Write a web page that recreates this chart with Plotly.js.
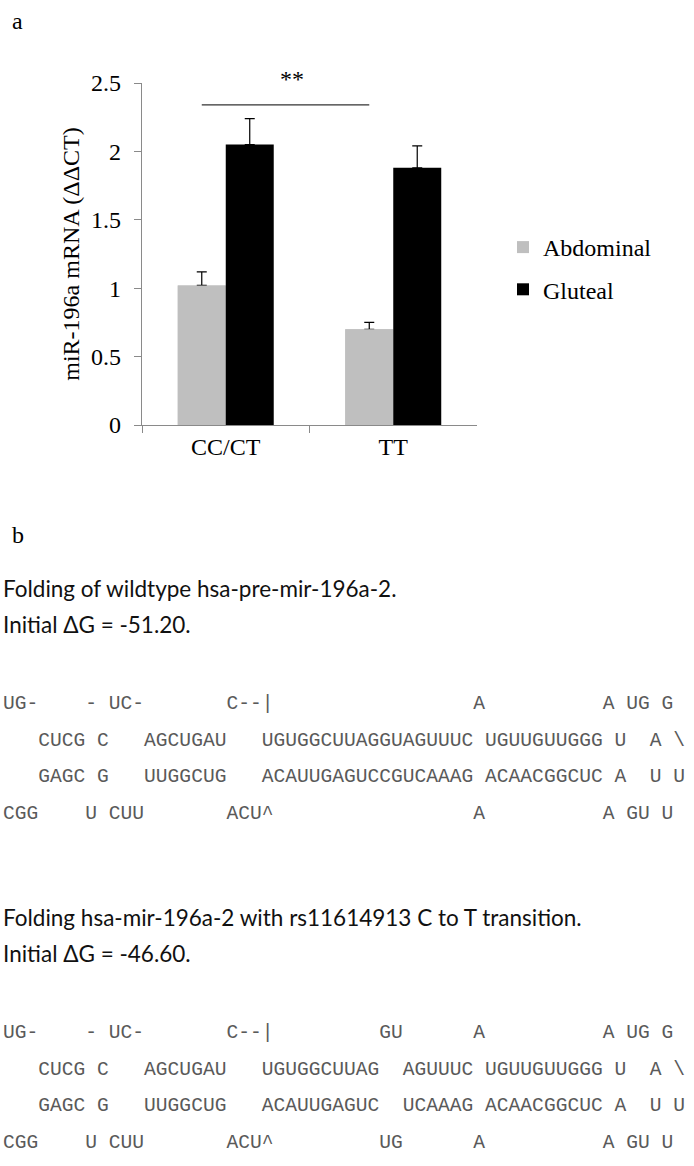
<!DOCTYPE html>
<html>
<head>
<meta charset="utf-8">
<script src="https://cdn.plot.ly/plotly-3.0.1.min.js"></script>
<style>
  html, body { margin: 0; padding: 0; background: #fff; }
  #target { width: 694px; height: 1166px; }
</style>
</head>
<body>
<div id="target"></div>
<script>
(function(global) {
  var genotypes = ['CC/CT', 'TT'];
  var abdominal = [1.02, 0.70];
  var abdominalErr = [0.10, 0.05];
  var gluteal = [2.05, 1.88];
  var glutealErr = [0.19, 0.16];
  var noErr = [0, 0];
  var sigLevel = 2.34;
  var sigLabel = '**';

  var wildtypeTitle = ['Folding of wildtype hsa-pre-mir-196a-2.', 'Initial ΔG = -51.20.'];
  var wildtypeFold = [
    'UG-    - UC-       C--|                 A          A UG G',
    '   CUCG C   AGCUGAU   UGUGGCUUAGGUAGUUUC UGUUGUUGGG U  A \\',
    '   GAGC G   UUGGCUG   ACAUUGAGUCCGUCAAAG ACAACGGCUC A  U U',
    'CGG    U CUU       ACU^                 A          A GU U'
  ];
  var mutantTitle = ['Folding hsa-mir-196a-2 with rs11614913 C to T transition.', 'Initial ΔG = -46.60.'];
  var mutantFold = [
    'UG-    - UC-       C--|         GU      A          A UG G',
    '   CUCG C   AGCUGAU   UGUGGCUUAG  AGUUUC UGUUGUUGGG U  A \\',
    '   GAGC G   UUGGCUG   ACAUUGAGUC  UCAAAG ACAACGGCUC A  U U',
    'CGG    U CUU       ACU^         UG      A          A GU U'
  ];

  // page is one plotly figure, margins 0, so paper coords == page fraction
  var W = 694, H = 1166;
  function px(x) { return x / W; }
  function py(y) { return 1 - y / H; }

  var serif = 'Liberation Serif, Times New Roman, serif';
  var sans = 'Lato, Carlito, Calibri, sans-serif';
  var mono = 'Liberation Mono, Courier New, monospace';
  var axisGray = '#8a8a8a';
  var bargap = 0.427;

  var errStyle = {color: '#000', thickness: 1.2, width: 5};
  function errBars(arr) {
    return Object.assign({type: 'data', symmetric: false, array: arr, arrayminus: noErr}, errStyle);
  }

  // abdominal drawn twice in the same slot: the second copy hides the
  // lower cap of the error bar that plotly puts on the bar top
  var traces = [
    {
      type: 'bar', name: 'Abdominal', offsetgroup: 'abd', showlegend: false,
      x: genotypes, y: abdominal,
      marker: {color: '#bfbfbf'},
      error_y: errBars(abdominalErr)
    },
    {
      type: 'bar', name: 'Abdominal', offsetgroup: 'abd', legendgroup: 'abd',
      x: genotypes, y: abdominal,
      marker: {color: '#bfbfbf'}
    },
    {
      type: 'bar', name: 'Gluteal', offsetgroup: 'glu', legendgroup: 'glu',
      x: genotypes, y: gluteal,
      marker: {color: '#000'},
      error_y: errBars(glutealErr)
    }
  ];

  var annotations = [];
  function addText(text, x, y, font) {
    annotations.push({
      xref: 'paper', yref: 'paper', x: x, y: y,
      xanchor: 'left', yanchor: 'middle', showarrow: false,
      text: text.replace(/ /g, '\u00a0'), font: font
    });
  }

  addText('a', px(10), py(21), {family: serif, size: 24, color: '#000'});
  addText('b', px(10), py(535), {family: serif, size: 24, color: '#000'});

  var titleFont = {family: sans, size: 22.5, color: '#111'};
  var foldFont = {family: mono, size: 19.6, color: '#5a5a5a'};
  function addBlock(title, fold, top) {
    addText(title[0], px(1), py(top), titleFont);
    addText(title[1], px(1), py(top + 36), titleFont);
    fold.forEach(function(line, i) {
      addText(line, px(1), py(top + 116 + i * 36.5), foldFont);
    });
  }
  addBlock(wildtypeTitle, wildtypeFold, 588);
  addBlock(mutantTitle, mutantFold, 917);

  // significance bar joins the two abdominal bars
  var off = (1 - bargap) / 4;
  annotations.push({
    xref: 'paper', yref: 'paper', x: px(292), y: py(79),
    xanchor: 'center', yanchor: 'middle',
    text: sigLabel, showarrow: false, font: {family: serif, size: 24, color: '#000'}
  });

  var layout = {
    width: W,
    height: H,
    margin: {l: 0, r: 0, t: 0, b: 0},
    paper_bgcolor: '#fff',
    plot_bgcolor: '#fff',
    barmode: 'group',
    bargap: bargap,
    bargroupgap: 0,
    font: {family: serif, size: 24, color: '#000'},
    xaxis: {
      domain: [px(142), px(477)],
      type: 'category',
      range: [-0.5, 1.5],
      showline: true,
      linecolor: axisGray,
      linewidth: 1.2,
      ticks: 'outside',
      tickson: 'boundaries',
      ticklen: 7,
      tickcolor: axisGray,
      showgrid: false,
      zeroline: false,
      tickfont: {family: serif, size: 24, color: '#000'}
    },
    yaxis: {
      domain: [py(425), py(83)],
      range: [0, 2.5],
      dtick: 0.5,
      showline: true,
      linecolor: axisGray,
      linewidth: 1.2,
      ticks: 'outside',
      ticklen: 7,
      tickcolor: axisGray,
      showgrid: false,
      zeroline: false,
      ticklabelstandoff: 8,
      tickfont: {family: serif, size: 24, color: '#000'},
      title: {text: 'miR-196a mRNA (ΔΔCT)', standoff: 4, font: {family: serif, size: 24, color: '#000'}}
    },
    shapes: [{
      type: 'line', xref: 'x', yref: 'y',
      x0: 0 - off, x1: 1 - off, y0: sigLevel, y1: sigLevel,
      line: {color: '#333', width: 1.3}
    }],
    showlegend: true,
    legend: {
      x: px(503), y: py(225), xanchor: 'left', yanchor: 'top',
      traceorder: 'grouped',
      tracegroupgap: 8,
      font: {family: serif, size: 24, color: '#000'},
      bgcolor: 'rgba(0,0,0,0)'
    },
    annotations: annotations
  };

  Plotly.newPlot('target', traces, layout, {displayModeBar: false, staticPlot: true});
})(window);
</script>
</body>
</html>
